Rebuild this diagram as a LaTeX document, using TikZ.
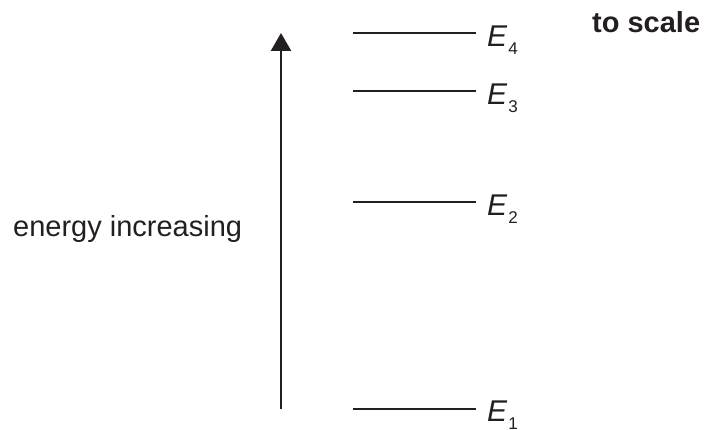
\documentclass[tikz,border=0pt]{standalone}
\usepackage{fontspec}
\setmainfont{Liberation Sans}
\usetikzlibrary{arrows.meta}
\definecolor{ink}{RGB}{35,31,32}
\begin{document}
\begin{tikzpicture}[x=1pt,y=-1pt,
  level/.style={draw=ink,line width=2.4pt},
  elabel/.style={anchor=base west,inner sep=0pt,text=ink,font=\fontsize{30}{34}\selectfont},
  plain/.style={inner sep=0pt,text=ink,font=\fontsize{29}{34}\selectfont}]
\useasboundingbox (0,0) rectangle (705,430);
\newcommand{\elev}[1]{\textit{E}\kern1pt\raisebox{-7.5pt}{\fontsize{17}{17}\selectfont #1}}
% arrow
\coordinate (abot) at (281,409);
\coordinate (atop) at (281,33);
\draw[draw=ink,line width=2.6pt,-{Triangle[length=18pt,width=20pt]}] (abot) -- (atop);
% levels
\coordinate (l4a) at (353,33);  \coordinate (l4b) at (476,33);
\coordinate (l3a) at (353,91);  \coordinate (l3b) at (476,91);
\coordinate (l2a) at (353,202); \coordinate (l2b) at (476,202);
\coordinate (l1a) at (353,409); \coordinate (l1b) at (476,409);
\draw[level] (l4a) -- (l4b);
\draw[level] (l3a) -- (l3b);
\draw[level] (l2a) -- (l2b);
\draw[level] (l1a) -- (l1b);
\node[elabel] (e4) at (487,47) {\elev{4}};
\node[elabel] (e3) at (487,105) {\elev{3}};
\node[elabel] (e2) at (487,216) {\elev{2}};
\node[elabel] (e1) at (487,422) {\elev{1}};
% texts
\node[plain,anchor=base west] (en) at (13,237) {energy increasing};
\node[plain,anchor=base west,font=\fontsize{29}{34}\selectfont\bfseries] (ts) at (592,33) {to scale};
\end{tikzpicture}
\end{document}
